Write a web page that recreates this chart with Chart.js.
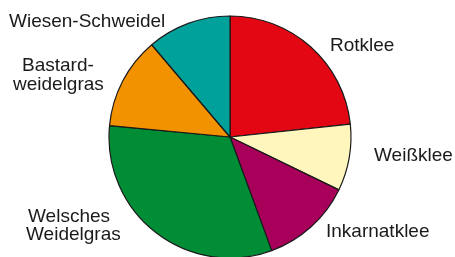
<!DOCTYPE html>
<html>
<head>
<meta charset="utf-8">
<script src="https://cdn.jsdelivr.net/npm/chart.js@4/dist/chart.umd.min.js"></script>
<style>
  html, body { margin: 0; padding: 0; background: #fff; }
  #wrap { position: relative; width: 455px; height: 257px; }
</style>
</head>
<body>
<div id="wrap"><canvas id="chart-1"></canvas></div>
<script>
// Anteile in Prozent, im Uhrzeigersinn ab 12 Uhr
var sorten = ["Rotklee", "Weißklee", "Inkarnatklee", "Welsches Weidelgras", "Bastardweidelgras", "Wiesen-Schweidel"];
var anteile = [23.3, 8.9, 12.2, 32.1, 12.3, 11.2];
var farben = ["#e30613", "#fff6bd", "#a8005a", "#008d36", "#f39200", "#00a19a"];

// Beschriftung: Zeilen je Segment (linksbündig, Grundlinie)
var beschriftung = [
  { lines: ["Rotklee"], x: 330, y: [51] },
  { lines: ["Weißklee"], x: 374, y: [161] },
  { lines: ["Inkarnatklee"], x: 326, y: [237] },
  { lines: ["Welsches", "Weidelgras"], x: [28, 26], y: [222, 240] },
  { lines: ["Bastard-", "weidelgras"], x: [22, 13], y: [71, 90] },
  { lines: ["Wiesen-Schweidel"], x: 9, y: [27] }
];

const labelPlugin = {
  id: "labels",
  afterDraw(chart) {
    const ctx = chart.ctx;
    ctx.save();
    ctx.font = "19px 'Liberation Sans', Arial, sans-serif";
    ctx.fillStyle = "#1a1a1a";
    ctx.textAlign = "left";
    ctx.textBaseline = "alphabetic";
    for (let i = 0; i < beschriftung.length; i++) {
      const b = beschriftung[i];
      for (let j = 0; j < b.lines.length; j++) {
        const x = Array.isArray(b.x) ? b.x[j] : b.x;
        ctx.fillText(b.lines[j], x, b.y[j]);
      }
    }
    ctx.restore();
  }
};

const ctx1 = document.getElementById("chart-1").getContext("2d");
const myChart1 = new Chart(ctx1, {
  type: "pie",
  data: {
    labels: sorten,
    datasets: [
      {
        data: anteile,
        backgroundColor: farben,
        borderColor: "#1a1a1a",
        borderWidth: 1.2,
      },
    ],
  },
  options: {
    responsive: true,
    maintainAspectRatio: false,
    animation: false,
    radius: 121,
    layout: {
      padding: { left: 5, right: 0, top: 17, bottom: 0 },
    },
    plugins: {
      legend: { display: false },
      tooltip: { enabled: false },
    },
  },
  plugins: [labelPlugin],
});
</script>
</body>
</html>
